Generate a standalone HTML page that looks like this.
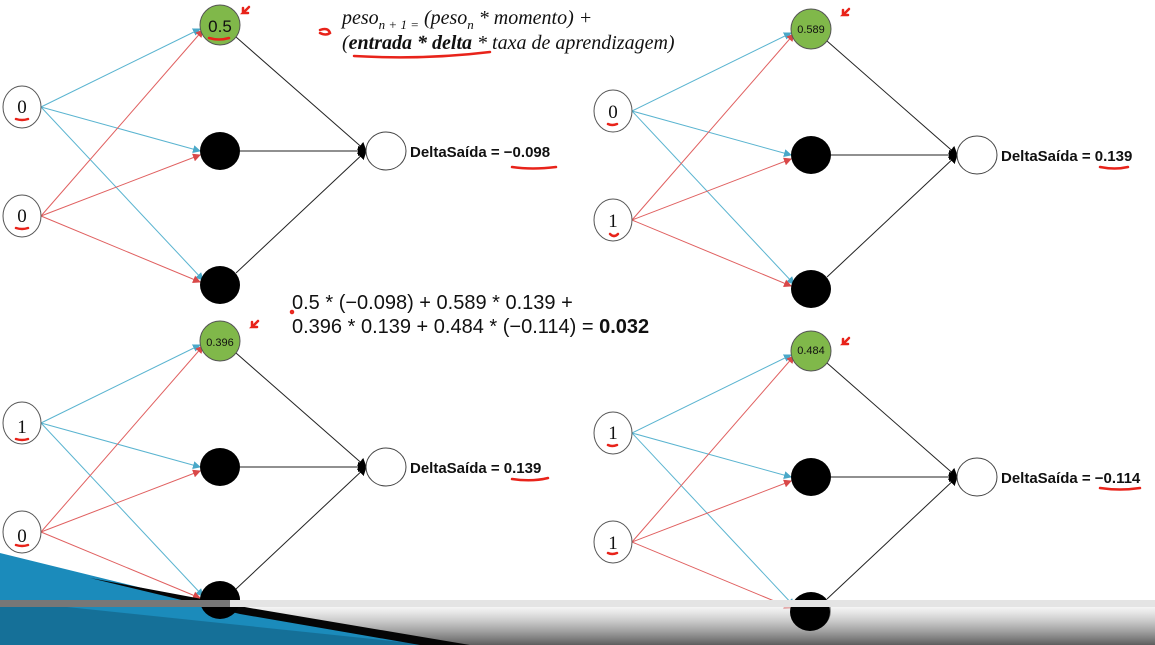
<!DOCTYPE html>
<html><head><meta charset="utf-8"><style>
html,body{margin:0;padding:0;background:#fff;width:1155px;height:645px;overflow:hidden}
svg{display:block}
.d{font-family:"Liberation Sans",sans-serif;font-weight:bold;font-size:15px;fill:#111}
.s{font-family:"Liberation Serif",serif;font-style:italic;font-size:20px;fill:#111}
.m{font-family:"Liberation Sans",sans-serif;font-size:20px;fill:#111}
.n{font-family:"Liberation Sans",sans-serif;font-size:11px;fill:#111}
</style></head><body>
<svg width="1155" height="645" viewBox="0 0 1155 645" xmlns="http://www.w3.org/2000/svg">
<defs>
<marker id="ab" markerWidth="8" markerHeight="8" refX="7" refY="4" orient="auto" markerUnits="userSpaceOnUse"><path d="M0,0 L8,4 L0,8z" fill="#4aa8c8"/></marker>
<marker id="ar" markerWidth="8" markerHeight="8" refX="7" refY="4" orient="auto" markerUnits="userSpaceOnUse"><path d="M0,0 L8,4 L0,8z" fill="#d94848"/></marker>
<marker id="ak" markerWidth="9" markerHeight="10" refX="8" refY="5" orient="auto" markerUnits="userSpaceOnUse"><path d="M0,0 L9,5 L0,10z" fill="#000"/></marker>
<linearGradient id="band" x1="0" y1="0" x2="0" y2="1"><stop offset="0" stop-color="#eee" stop-opacity="0.6"/><stop offset="1" stop-color="#555" stop-opacity="0.95"/></linearGradient>
<g id="net">
<g stroke="#5ab4d0" stroke-width="1" marker-end="url(#ab)">
<line x1="41" y1="107" x2="200" y2="29"/>
<line x1="41" y1="107" x2="200" y2="151"/>
<line x1="41" y1="107" x2="203" y2="280"/>
</g>
<g stroke="#e06060" stroke-width="1" marker-end="url(#ar)">
<line x1="41" y1="216" x2="203" y2="30"/>
<line x1="41" y1="216" x2="200" y2="155"/>
<line x1="41" y1="216" x2="200" y2="282"/>
</g>
<g stroke="#222" stroke-width="1" marker-end="url(#ak)">
<line x1="236" y1="37" x2="366" y2="151"/>
<line x1="240" y1="151" x2="366" y2="151"/>
<line x1="236" y1="273" x2="366" y2="151"/>
</g>
<ellipse cx="22" cy="107" rx="19" ry="21" fill="#fff" stroke="#555"/>
<ellipse cx="22" cy="216" rx="19" ry="21" fill="#fff" stroke="#555"/>
<ellipse cx="220" cy="25" rx="20" ry="20" fill="#80b84a" stroke="#555"/>
<ellipse cx="220" cy="151" rx="20" ry="19" fill="#000"/>
<ellipse cx="220" cy="285" rx="20" ry="19" fill="#000"/>
<ellipse cx="386" cy="151" rx="20" ry="19" fill="#fff" stroke="#444"/>
</g>
</defs>
<use href="#net"/>
<use href="#net" transform="translate(591,4)"/>
<use href="#net" transform="translate(0,316)"/>
<use href="#net" transform="translate(591,326)"/>

<g class="m" text-anchor="middle" style="font-family:'Liberation Serif',serif;font-size:19px">
<text x="22" y="113">0</text><text x="22" y="222">0</text>
<text x="613" y="118">0</text><text x="613" y="227">1</text>
<text x="22" y="433">1</text><text x="22" y="542">0</text>
<text x="613" y="439">1</text><text x="613" y="549">1</text>
<text x="220" y="32" style="font-family:'Liberation Sans',sans-serif;font-size:17px">0.5</text>
</g>
<g class="n" text-anchor="middle">
<text x="811" y="33">0.589</text><text x="220" y="346">0.396</text><text x="811" y="354">0.484</text>
</g>
<g stroke="#e8231a" stroke-width="2.5" fill="none" stroke-linecap="round">
<path d="M16,119 q6,2 12,0"/><path d="M16,228 q6,2 12,0"/>
<path d="M608,124 q4,2 9,0"/><path d="M610,234 q4,4 8,0"/>
<path d="M16,439 q6,2 12,0"/><path d="M16,545 q6,2 12,0"/>
<path d="M608,445 q4,2 9,0"/><path d="M608,553 q4,2 9,0"/>
<path d="M209,38 q10,3 20,0"/>
<path d="M249,7 l-6,6 l5,0 M243,13 l0,-5"/>
<path d="M849,9 l-6,6 l5,0 M843,15 l0,-5"/>
<path d="M258,321 l-6,6 l5,0 M252,327 l0,-5"/>
<path d="M849,338 l-6,6 l5,0 M843,344 l0,-5"/>
<path d="M320,30 q8,-3 10,3 q-4,3 -10,0"/>
<path d="M354,56 q70,4 136,-4"/>
<path d="M512,167 q20,3 44,0"/><path d="M1100,167 q15,3 28,0"/>
<path d="M512,479 q20,3 36,-1"/><path d="M1100,488 q20,3 40,0"/>
<circle cx="292" cy="312" r="1"/>
</g>
<g class="d">
<text x="410" y="157">DeltaSaída = −0.098</text>
<text x="1001" y="161">DeltaSaída = 0.139</text>
<text x="410" y="473">DeltaSaída = 0.139</text>
<text x="1001" y="483">DeltaSaída = −0.114</text>
</g>
<text class="s" x="342" y="24">peso<tspan font-size="13" dy="5">n + 1 =</tspan><tspan dy="-5"> (peso</tspan><tspan font-size="13" dy="5">n</tspan><tspan dy="-5">  * momento) +</tspan></text>
<text class="s" x="342" y="49">(<tspan font-weight="bold">entrada  * delta</tspan>  * taxa de aprendizagem)</text>
<text class="m" x="292" y="309">0.5 * (−0.098) + 0.589 * 0.139 +</text>
<text class="m" x="292" y="333">0.396 * 0.139 + 0.484 * (−0.114) = <tspan font-weight="bold">0.032</tspan></text>
<rect x="0" y="607" width="1155" height="38" fill="url(#band)"/>
<polygon points="0,553 240,612 430,645 0,645" fill="#1b8bbb"/>
<polygon points="0,600 430,645 0,645" fill="#0b3f5a" opacity="0.35"/>
<polygon points="90,578 250,608 470,645 420,645 240,614" fill="#050505"/>
<g fill="#000"><ellipse cx="220" cy="600" rx="20" ry="19"/><ellipse cx="810" cy="612" rx="20" ry="19"/></g>
<rect x="0" y="600" width="230" height="7" fill="#777"/>
<rect x="230" y="600" width="925" height="7" fill="#e4e4e4"/>
</svg>
</body></html>
